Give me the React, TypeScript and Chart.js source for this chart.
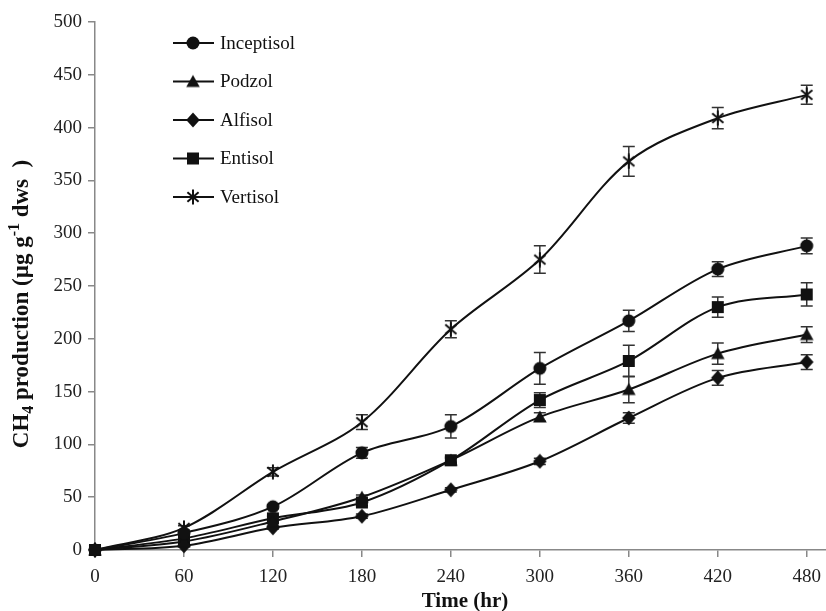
import React, { useEffect, useRef } from 'react';
import { Chart, registerables } from 'chart.js';

Chart.register(...registerables);

// ---- data ----
const times = [0, 60, 120, 180, 240, 300, 360, 420, 480];
const seriesLabels = ['Inceptisol', 'Podzol', 'Alfisol', 'Entisol', 'Vertisol'];
const inceptisol = [0, 16, 41, 92, 117, 172, 217, 266, 288];
const podzol = [0, 8, 27, 50, 85, 126, 152, 186, 204];
const alfisol = [0, 4, 21, 32, 57, 84, 125, 163, 178];
const entisol = [0, 11, 30, 45, 85, 142, 179, 230, 242];
const vertisol = [0, 21, 74, 121, 209, 275, 368, 409, 431];
const inceptisolErr = [0, 1, 2, 5, 11, 15, 10, 7, 7.5];
const podzolErr = [0, 1, 1, 2, 2, 4, 12.5, 10, 7.5];
const alfisolErr = [0, 1, 1, 2, 2, 3, 5, 7, 7];
const entisolErr = [0, 1, 2, 3, 3, 7, 15, 9.5, 11];
const vertisolErr = [0, 2, 4, 7, 8, 13, 14, 10, 9];
const xTitle = 'Time (hr)';

const seriesValues = [inceptisol, podzol, alfisol, entisol, vertisol];
const seriesErrors = [inceptisolErr, podzolErr, alfisolErr, entisolErr, vertisolErr];
const markerKinds = ['circle', 'triangle', 'diamond', 'square', 'asterisk'];

const SERIF = "'Liberation Serif', 'Times New Roman', serif";
const INK = '#111';

function makeMarker(kind: string): HTMLCanvasElement {
  const c = document.createElement('canvas');
  c.width = 16;
  c.height = 16;
  const g = c.getContext('2d')!;
  g.fillStyle = INK;
  g.strokeStyle = INK;
  g.beginPath();
  if (kind === 'circle') {
    g.arc(8, 8, 6.5, 0, Math.PI * 2);
    g.fill();
  } else if (kind === 'triangle') {
    g.moveTo(8, 1.5);
    g.lineTo(14.8, 13.5);
    g.lineTo(1.2, 13.5);
    g.closePath();
    g.fill();
  } else if (kind === 'diamond') {
    g.moveTo(8, 0.5);
    g.lineTo(14.8, 8);
    g.lineTo(8, 15.5);
    g.lineTo(1.2, 8);
    g.closePath();
    g.fill();
  } else if (kind === 'square') {
    g.rect(2, 2, 12, 12);
    g.fill();
  } else {
    g.lineWidth = 2;
    g.moveTo(8, 0.5);
    g.lineTo(8, 15.5);
    const a = (40 * Math.PI) / 180;
    const L = 7.3;
    g.moveTo(8 - L * Math.cos(a), 8 - L * Math.sin(a));
    g.lineTo(8 + L * Math.cos(a), 8 + L * Math.sin(a));
    g.moveTo(8 - L * Math.cos(a), 8 + L * Math.sin(a));
    g.lineTo(8 + L * Math.cos(a), 8 - L * Math.sin(a));
    g.stroke();
  }
  return c;
}

export default function App() {
  const ref = useRef<HTMLCanvasElement | null>(null);

  useEffect(() => {
    const canvas = ref.current;
    if (!canvas) return;
    const markers = markerKinds.map(makeMarker);

    const errorBars = {
      id: 'errorBars',
      beforeDatasetsDraw(chart: any) {
        const { ctx } = chart;
        const xs = chart.scales.x;
        const ys = chart.scales.y;
        ctx.save();
        ctx.strokeStyle = '#333';
        ctx.lineWidth = 1.5;
        seriesValues.forEach((vals, i) => {
          vals.forEach((v, j) => {
            const e = seriesErrors[i][j];
            if (!e) return;
            const px = xs.getPixelForValue(times[j]);
            const t = ys.getPixelForValue(v + e);
            const b = ys.getPixelForValue(v - e);
            ctx.beginPath();
            ctx.moveTo(px, t);
            ctx.lineTo(px, b);
            ctx.moveTo(px - 6, t);
            ctx.lineTo(px + 6, t);
            ctx.moveTo(px - 6, b);
            ctx.lineTo(px + 6, b);
            ctx.stroke();
          });
        });
        ctx.restore();
      },
    };

    const decorations = {
      id: 'decorations',
      afterDraw(chart: any) {
        const { ctx } = chart;
        ctx.save();
        // legend
        seriesLabels.forEach((lab, i) => {
          const y = 43 + i * 38.5;
          ctx.strokeStyle = INK;
          ctx.lineWidth = 2;
          ctx.beginPath();
          ctx.moveTo(173, y);
          ctx.lineTo(214, y);
          ctx.stroke();
          ctx.drawImage(markers[i], 193 - 8, y - 8);
          ctx.fillStyle = INK;
          ctx.font = `19px ${SERIF}`;
          ctx.textAlign = 'left';
          ctx.textBaseline = 'middle';
          ctx.fillText(lab, 220, y + 1);
        });

        // x title
        ctx.font = `bold 21px ${SERIF}`;
        ctx.fillStyle = INK;
        ctx.textAlign = 'center';
        ctx.textBaseline = 'alphabetic';
        ctx.fillText(xTitle, 465, 607);

        // y title with sub/superscripts
        const big = `bold 23px ${SERIF}`;
        const small = `bold 16px ${SERIF}`;
        const parts: [string, string, number][] = [
          ['CH', big, 0],
          ['4', small, 5],
          [' production (\u00b5g g', big, 0],
          ['-1', small, -9],
          [' dws  )', big, 0],
        ];
        let total = 0;
        parts.forEach(([t, f]) => {
          ctx.font = f;
          total += ctx.measureText(t).width;
        });
        ctx.translate(28, 304);
        ctx.rotate(-Math.PI / 2);
        ctx.textAlign = 'left';
        let cx = -total / 2;
        parts.forEach(([t, f, dy]) => {
          ctx.font = f;
          ctx.fillText(t, cx, dy);
          cx += ctx.measureText(t).width;
        });
        ctx.restore();
      },
    };

    const datasets = seriesLabels.map((lab, i) => ({
      label: lab,
      data: times.map((t, j) => ({ x: t, y: seriesValues[i][j] })),
      borderColor: INK,
      backgroundColor: INK,
      borderWidth: 2,
      tension: 0.33,
      pointStyle: markers[i] as any,
      pointRadius: 6,
      clip: false as any,
    }));

    const axisCommon = {
      grid: {
        display: true,
        drawOnChartArea: false,
        drawTicks: true,
        tickLength: 7,
        color: '#888',
        lineWidth: 1.5,
      },
      border: { display: true, color: '#888', width: 1.5 },
    };

    const chart = new Chart(canvas, {
      type: 'line',
      data: { datasets: datasets as any },
      plugins: [errorBars, decorations],
      options: {
        animation: false,
        responsive: true,
        maintainAspectRatio: false,
        layout: { autoPadding: false, padding: { top: 22, left: 0, right: 0, bottom: 0 } },
        plugins: {
          legend: { display: false },
          tooltip: { enabled: false },
          title: { display: false },
        },
        scales: {
          x: {
            type: 'linear',
            min: 0,
            max: 493,
            ...axisCommon,
            ticks: {
              stepSize: 60,
              includeBounds: false,
              color: '#222',
              padding: 9,
              maxRotation: 0,
              font: { family: SERIF, size: 19 },
            },
            afterFit(scale: any) {
              scale.height = 61;
              scale.paddingLeft = 0;
              scale.paddingRight = 0;
            },
          },
          y: {
            type: 'linear',
            min: 0,
            max: 500,
            ...axisCommon,
            ticks: {
              stepSize: 50,
              color: '#222',
              padding: 6,
              font: { family: SERIF, size: 19 },
            },
            afterFit(scale: any) {
              scale.width = 95;
              scale.paddingTop = 0;
              scale.paddingBottom = 0;
            },
          },
        },
      } as any,
    });

    return () => chart.destroy();
  }, []);

  return (
    <div style={{ position: 'fixed', left: 0, top: 0, width: 826, height: 611, background: '#fff' }}>
      <canvas ref={ref} />
    </div>
  );
}
